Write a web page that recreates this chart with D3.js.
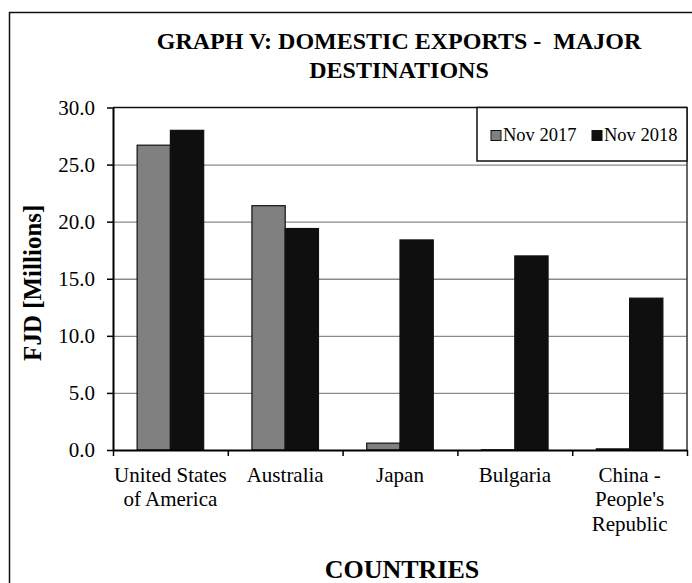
<!DOCTYPE html>
<html>
<head>
<meta charset="utf-8">
<script src="https://cdn.jsdelivr.net/npm/d3@7"></script>
<style>
  html, body { margin: 0; padding: 0; background: #fff; }
  svg { display: block; font-family: "Liberation Serif", "Times New Roman", serif; }
</style>
</head>
<body>
<div id="plot"></div>
<script>
// chart data
const countries = [
  ['United States', 'of America'],
  ['Australia'],
  ['Japan'],
  ['Bulgaria'],
  ['China -', "People's", 'Republic']
];
const seriesNames = ['Nov 2017', 'Nov 2018'];
const nov2017 = [26.7, 21.4, 0.6, 0.02, 0.1];
const nov2018 = [28.0, 19.4, 18.4, 17.0, 13.3];
const yTicks = [0, 5, 10, 15, 20, 25, 30];
const colors = ['#808080', '#0f0f0f'];

const W = 692, H = 583;
const margin = { top: 107.5, right: 5, bottom: 133, left: 113 };
const width = W - margin.left - margin.right;
const height = H - margin.top - margin.bottom;

const svg = d3.select('#plot').append('svg').attr('width', W).attr('height', H);

// outer frame (runs off the right and bottom of the picture)
svg.append('rect')
  .attr('x', 9.5).attr('y', 12.5)
  .attr('width', 720).attr('height', 620)
  .attr('fill', 'none').attr('stroke', '#111').attr('stroke-width', 1.5);

const g = svg.append('g').attr('transform', `translate(${margin.left},${margin.top})`);

const keys = countries.map((d, i) => i);
const x0 = d3.scaleBand().domain(keys).range([0, width]).paddingInner(0).paddingOuter(0);
const barW = x0.bandwidth() / 3.45;
const y = d3.scaleLinear().domain([0, 30]).range([height, 0]);

// gridlines
g.append('g')
  .call(d3.axisLeft(y).tickValues(yTicks.slice(1, -1)).tickSize(-width).tickFormat(''))
  .call(s => s.select('.domain').remove())
  .selectAll('line').attr('stroke', '#8a8a8a').attr('stroke-width', 1.3);

// bars
const rows = keys.map(i => [nov2017[i], nov2018[i]]);
const groups = g.selectAll('.grp').data(rows).enter().append('g')
  .attr('transform', (d, i) => `translate(${x0(i) + x0.bandwidth() / 2 - barW},0)`);
groups.selectAll('rect').data(d => d).enter().append('rect')
  .attr('x', (d, j) => j * barW)
  .attr('y', d => y(d))
  .attr('width', barW)
  .attr('height', d => height - y(d))
  .attr('fill', (d, j) => colors[j])
  .attr('stroke', '#111')
  .attr('stroke-width', 1.2);

// plot area frame: top and right
g.append('line').attr('x1', 0).attr('x2', width).attr('y1', 0).attr('y2', 0)
  .attr('stroke', '#111').attr('stroke-width', 1.5);
g.append('line').attr('x1', width).attr('x2', width).attr('y1', 0).attr('y2', height)
  .attr('stroke', '#333').attr('stroke-width', 1.5);

// y axis
const yAxis = g.append('g')
  .call(d3.axisLeft(y).tickValues(yTicks).tickFormat(d3.format('.1f')).tickSize(6).tickPadding(12).tickSizeOuter(0));
yAxis.select('.domain').attr('stroke', '#000').attr('stroke-width', 2);
yAxis.selectAll('line').attr('stroke', '#000').attr('stroke-width', 1.5);
yAxis.selectAll('text').style('font-size', '21px').attr('fill', '#000')
  .attr('font-family', '"Liberation Serif", "Times New Roman", serif');

// x axis: ticks between categories
const xEdges = d3.scaleLinear().domain([0, countries.length]).range([0, width]);
const xAxis = g.append('g').attr('transform', `translate(0,${height})`)
  .call(d3.axisBottom(xEdges).ticks(countries.length).tickFormat('').tickSize(6).tickSizeOuter(0));
xAxis.select('.domain').attr('stroke', '#000').attr('stroke-width', 2);
xAxis.selectAll('line').attr('stroke', '#000').attr('stroke-width', 1.5);

// category labels
const labels = g.append('g').attr('transform', `translate(0,${height})`);
countries.forEach((lines, i) => {
  const t = labels.append('text')
    .attr('x', x0(i) + x0.bandwidth() / 2)
    .attr('y', 31.5)
    .attr('text-anchor', 'middle')
    .style('font-size', '21px')
    .attr('fill', '#000');
  lines.forEach((ln, k) => {
    t.append('tspan').attr('x', x0(i) + x0.bandwidth() / 2).attr('dy', k === 0 ? 0 : 24.5).text(ln);
  });
});

// legend
const legend = g.append('g').attr('transform', `translate(${width - 210},0)`);
legend.append('rect').attr('x', 0).attr('y', 0).attr('width', 210).attr('height', 53.5)
  .attr('fill', '#fff').attr('stroke', '#111').attr('stroke-width', 1.5);
const legendX = [14, 115];
seriesNames.forEach((name, j) => {
  legend.append('rect').attr('x', legendX[j]).attr('y', 23).attr('width', 10).attr('height', 10)
    .attr('fill', colors[j]).attr('stroke', '#111').attr('stroke-width', 1);
  legend.append('text').attr('x', legendX[j] + 12).attr('y', 33.5)
    .style('font-size', '18.5px').attr('fill', '#000').text(name);
});

// titles
const title = svg.append('text')
  .attr('x', 399).attr('y', 49)
  .attr('text-anchor', 'middle')
  .style('font-size', '24px').style('font-weight', 'bold').attr('fill', '#000');
title.append('tspan').attr('x', 399).attr('dy', 0).attr('xml:space', 'preserve').text('GRAPH V: DOMESTIC EXPORTS -  MAJOR');
title.append('tspan').attr('x', 399).attr('dy', 29).text('DESTINATIONS');

svg.append('text')
  .attr('transform', `translate(41,${margin.top + height / 2 + 4}) rotate(-90)`)
  .attr('text-anchor', 'middle')
  .style('font-size', '25px').style('font-weight', 'bold').attr('fill', '#000')
  .text('FJD [Millions]');

svg.append('text')
  .attr('x', 402).attr('y', 578)
  .attr('text-anchor', 'middle')
  .style('font-size', '26px').style('font-weight', 'bold').attr('fill', '#000')
  .text('COUNTRIES');
</script>
</body>
</html>
